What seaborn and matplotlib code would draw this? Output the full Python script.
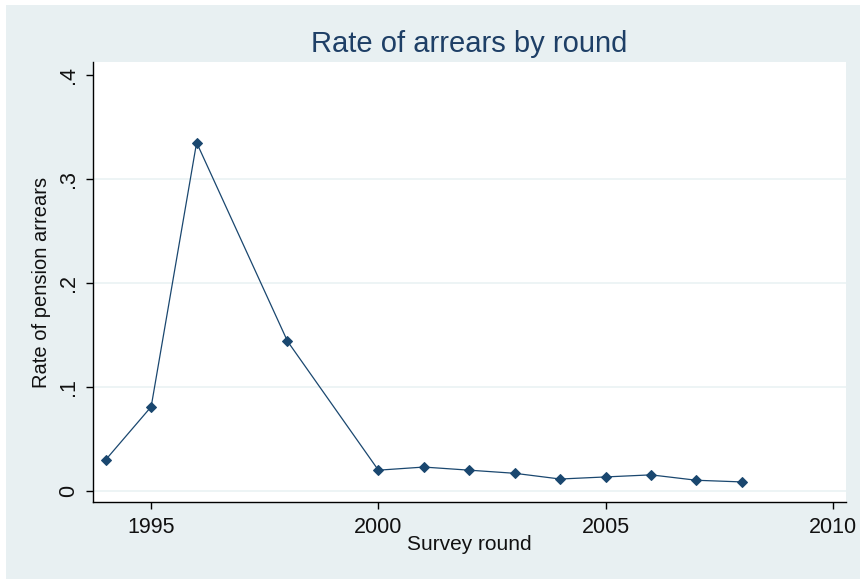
import pandas as pd
import matplotlib
matplotlib.use("Agg")
import matplotlib.pyplot as plt
from matplotlib.patches import Rectangle
import seaborn as sns

# survey rounds and arrears rates
rounds = [1994, 1995, 1996, 1998, 2000, 2001, 2002, 2003, 2004, 2005, 2006, 2007, 2008]
rates = [0.030, 0.081, 0.335, 0.144, 0.020, 0.023, 0.020, 0.017, 0.0115, 0.0135, 0.0155, 0.0103, 0.0087]
yticks = [0, 0.1, 0.2, 0.3, 0.4]
ytick_labels = ["0", ".1", ".2", ".3", ".4"]
xticks = [1995, 2000, 2005, 2010]

df = pd.DataFrame({"round": rounds, "rate": rates})

sns.set_style("white")
plt.rcParams["font.family"] = ["Liberation Sans", "DejaVu Sans"]

navy = "#1a476f"
bg = "#e8f0f2"

fig = plt.figure(figsize=(8.6, 5.79), dpi=100, facecolor="white")
fig.patches.append(Rectangle((6 / 860, 0), 1, 1 - 5 / 579, transform=fig.transFigure,
                             facecolor=bg, edgecolor="none", zorder=-10))
ax = fig.add_axes([93 / 860, 77 / 579, 753 / 860, 440 / 579])
ax.set_facecolor("white")

sns.lineplot(data=df, x="round", y="rate", ax=ax, color=navy, linewidth=0.9,
             marker="D", markersize=5.5, markeredgecolor=navy, zorder=3)

ax.set_xlim(1993.72, 2010.29)
ax.set_ylim(-0.0106, 0.4125)
ax.set_xticks(xticks)
ax.set_yticks(yticks)
ax.set_yticklabels(ytick_labels, rotation=90, va="center")

ax.yaxis.grid(True, color="#eaf2f3", linewidth=1.2)
ax.yaxis.get_gridlines()[-1].set_visible(False)
ax.set_axisbelow(True)

for s in ["top", "right"]:
    ax.spines[s].set_visible(False)
for s in ["left", "bottom"]:
    ax.spines[s].set_color("black")
    ax.spines[s].set_linewidth(1.0)

ax.tick_params(axis="both", direction="out", length=5, width=1, color="black",
               labelsize=15.5, labelcolor="#111111", left=True, bottom=True)
ax.tick_params(axis="y", pad=5)
ax.tick_params(axis="x", pad=6)

ax.set_xlabel("Survey round", fontsize=15, color="#111111", labelpad=-2)
ax.set_ylabel("Rate of pension arrears", fontsize=14.5, color="#111111", labelpad=5)
ax.set_title("Rate of arrears by round", fontsize=21, color="#1e3f66", pad=7)

fig.savefig("out.png", dpi=100, facecolor=fig.get_facecolor())
